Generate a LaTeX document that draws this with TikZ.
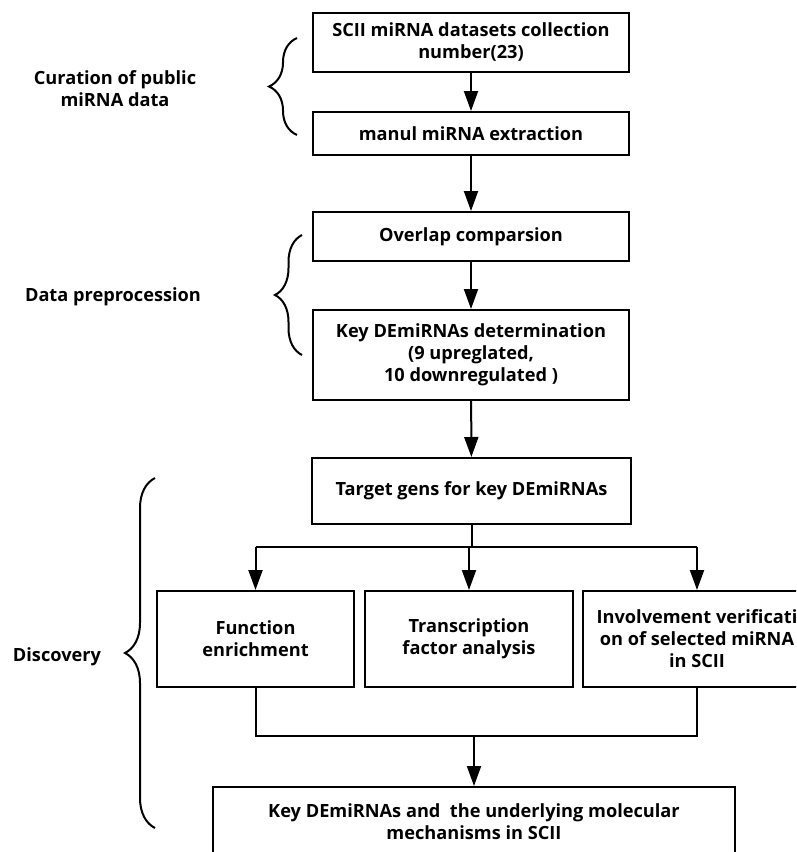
\documentclass[tikz,border=0pt]{standalone}
\usepackage{fontspec}
\setmainfont{Open Sans}
\usetikzlibrary{arrows.meta,decorations.pathreplacing}

\begin{document}
\begin{tikzpicture}[x=1pt,y=-1pt,line width=2pt,
  every node/.style={font=\bfseries\fontsize{18.2}{22}\selectfont},
  stepbox/.style={draw,rectangle,align=center,inner sep=0pt},
  phase/.style={decorate,decoration={brace,amplitude=#1}},
  >={Triangle[length=20pt,width=14pt]}]
\useasboundingbox (0,0) rectangle (796,852);
\clip (0,0) rectangle (796,852);
% steps
\node[stepbox,minimum width=316,minimum height=59] (coll) at (471,42.5) {SCII miRNA datasets collection\\number(23)};
\node[stepbox,minimum width=316,minimum height=43] (extr) at (471,133.5) {manul miRNA extraction};
\node[stepbox,minimum width=316,minimum height=49] (over) at (471,236.5) {Overlap comparsion};
\node[stepbox,minimum width=316,minimum height=90] (keyde) at (471,355) {Key DEmiRNAs determination\\(9 upreglated,\\10 downregulated )};
\node[stepbox,minimum width=319,minimum height=66] (targ) at (471.5,491) {Target gens for key DEmiRNAs};
\node[stepbox,minimum width=197,minimum height=96] (func) at (255.5,639) {Function\\enrichment};
\node[stepbox,minimum width=208,minimum height=96] (tfac) at (469,639) {Transcription\\factor analysis};
\node[stepbox,minimum width=228,minimum height=96] (invo) at (697,639) {Involvement verificati\\on of selected miRNA\\in SCII};
\node[stepbox,minimum width=522,minimum height=70] (mech) at (474,822) {Key DEmiRNAs and\ \ the underlying molecular\\mechanisms in SCII};
% phases
\node[align=center] (cur) at (115,89) {Curation of public\\miRNA data};
\node (prep) at (113,297) {Data preprocession};
\node (disc) at (57,657) {Discovery};
\draw[phase=28pt] (297,135) -- (297,38);
\draw[phase=27pt] (302,355) -- (302,235);
\draw[phase=30pt] (155,828) -- (155,478);
% arrows
\draw[->] (coll) -- (extr);
\draw[->] (extr) -- (over);
\draw[->] (over) -- (keyde);
\draw[->] (keyde) -- (targ);
\coordinate (split) at (471.5,547);
\draw (targ) -- (split);
\draw (split -| func) -- (split -| invo);
\draw[->] (split -| func) -- (func);
\draw[->] (split) -- (split -| tfac) -- (tfac);
\draw[->] (split -| invo) -- (invo);
\coordinate (join) at (474,736);
\draw (func) -- (join -| func) -- (join -| invo) -- (invo);
\draw[->] (join) -- (mech);
\end{tikzpicture}
\end{document}
